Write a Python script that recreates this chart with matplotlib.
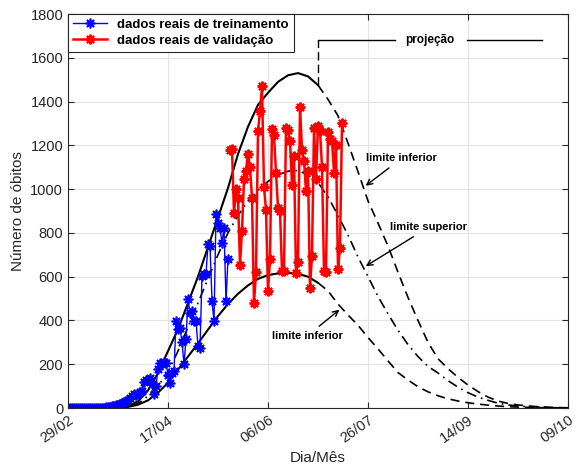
import numpy as np
import matplotlib.pyplot as plt

plt.rcParams['font.family'] = ['Liberation Sans', 'DejaVu Sans']

# ============== TICKS ==============
tick_days   = [0, 50, 100, 150, 200, 250]
tick_labels = ['29/02', '17/04', '06/06', '26/07', '14/09', '09/10']
y_ticks     = [0, 200, 400, 600, 800, 1000, 1200, 1400, 1600, 1800]

# ============== OBSERVED DAILY DEATHS ==============
train_first_day = 0
train_deaths = [0, 0, 0, 0, 0, 0, 0, 0, 0, 0,
                0, 0, 0, 0, 0, 1, 1, 2, 2, 3,
                4, 5, 7, 9, 12, 15, 18, 22, 28, 33,
                38, 45, 55, 62, 58, 62, 75, 78, 120, 130,
                128, 135, 110, 64, 100, 180, 207, 200, 208, 207,
                150, 116, 160, 170, 397, 362, 367, 300, 200, 314,
                498, 435, 443, 397, 397, 283, 275, 603, 612, 612,
                749, 740, 489, 397, 886, 847, 823, 755, 823, 489,
                680]

valid_first_day = 81
valid_deaths = [1180, 1185, 890, 1000, 960, 655, 810,
                1045, 1085, 1160, 1100, 960, 480, 620,
                1265, 1355, 1470, 1010, 905, 535, 680,
                1275, 1245, 1075, 915, 900, 625, 625,
                1280, 1270, 1220, 1020, 1150, 615, 665,
                1375, 1180, 1130, 990, 1085, 550, 695,
                1280, 1045, 1290, 1265, 1100, 625, 620,
                1260, 1230, 1220, 1075, 1200, 635, 730,
                1300]

# ============== MODEL CURVES (every 5 days) ==============
curve_days = list(range(0, 251, 5))
upper = [0, 0, 0, 0, 0, 2, 10, 30, 80, 160,
         260, 360, 480, 600, 735, 870, 1005, 1160, 1285, 1385,
         1440, 1490, 1520, 1530, 1515, 1475, 1410, 1335, 1210, 1080,
         946, 845, 740, 620, 505, 400, 300, 225, 180, 140,
         105, 75, 50, 32, 21, 14, 9, 6, 4, 2, 1]
middle = [0, 0, 0, 0, 0, 1, 6, 20, 55, 100,
          165, 260, 370, 480, 590, 700, 800, 880, 945, 995,
          1035, 1065, 1082, 1085, 1065, 1030, 965, 880, 790, 690,
          600, 510, 430, 355, 290, 235, 190, 160, 125, 95,
          70, 50, 35, 22, 14, 9, 6, 4, 2, 1, 0]
lower = [0, 0, 0, 0, 0, 1, 5, 15, 35, 70,
         115, 175, 235, 295, 358, 420, 475, 522, 560, 590,
         607, 615, 618, 613, 600, 572, 535, 475, 425, 378,
         322, 270, 215, 162, 128, 97, 74, 56, 42, 32,
         24, 18, 13, 9, 6, 4, 3, 2, 1, 0, 0]

proj_day    = 125     # start of the projection
proj_level  = 1681    # height of the "projeção" bracket
proj_text_x = 181

# ============== FIGURE ==============
fig = plt.figure(figsize=(5.85, 4.70), dpi=100)
ax = fig.add_axes([68/585, 1-408/470, 500/585, 394/470])

cd = np.array(curve_days)
up = np.array(upper)
md = np.array(middle)
lo = np.array(lower)
fit = cd <= proj_day
prj = cd >= proj_day

dash = (0, (5.5, 3.5))
ax.plot(cd[fit], up[fit], color='black', lw=1.5)
ax.plot(cd[prj], up[prj], color='black', lw=1.2, linestyle=dash)
ax.plot(cd, md, color='black', lw=1.2, linestyle=(0, (6, 3, 1, 3)))
ax.plot(cd[fit], lo[fit], color='black', lw=1.5)
ax.plot(cd[prj], lo[prj], color='black', lw=1.2, linestyle=dash)

asterisk = (8, 2, 0)
train_x = np.arange(len(train_deaths)) + train_first_day
valid_x = np.arange(len(valid_deaths)) + valid_first_day
ax.plot(train_x, train_deaths, color='#0000ff', lw=1.0, marker=asterisk,
        markersize=7, markeredgewidth=1.2, label='dados reais de treinamento')
ax.plot(valid_x, valid_deaths, color='#ff0000', lw=1.8, marker=asterisk,
        markersize=7, markeredgewidth=1.5, label='dados reais de validação')

# projection bracket
top_at_proj = up[cd == proj_day][0]
ax.plot([proj_day, proj_day], [top_at_proj, proj_level], color='black',
        lw=1.0, linestyle=(0, (6, 3)))
ax.plot([proj_day, 163.5], [proj_level, proj_level], color='black', lw=1.0)
ax.plot([199.5, 237], [proj_level, proj_level], color='black', lw=1.0)
ax.text(proj_text_x, proj_level, 'projeção', ha='center', va='center',
        fontsize=8.5, fontweight='bold')

arrow = dict(arrowstyle='->', color='black', lw=1.0, mutation_scale=10)
ax.annotate('limite inferior', xy=(147.7, np.interp(147.7, cd, up)),
            xytext=(149, 1140), fontsize=8, fontweight='bold',
            ha='left', va='center', arrowprops=arrow)
ax.annotate('limite superior', xy=(147.7, np.interp(147.7, cd, md)),
            xytext=(161, 825), fontsize=8, fontweight='bold',
            ha='left', va='center', arrowprops=arrow)
ax.annotate('limite inferior', xy=(136.8, np.interp(136.8, cd, lo)),
            xytext=(102, 330), fontsize=8, fontweight='bold',
            ha='left', va='center', arrowprops=arrow)

# axes cosmetics
ax.set_xlim(0, 250)
ax.set_ylim(0, 1800)
ax.set_xticks(tick_days)
ax.set_xticklabels(tick_labels, rotation=35, ha='right', rotation_mode='anchor')
ax.set_yticks(y_ticks)
ax.tick_params(direction='in', top=True, right=True, labelsize=10.5,
               colors='#262626', length=4)
for s in ax.spines.values():
    s.set_color('#262626')
    s.set_linewidth(0.8)
ax.grid(True, color='#e3e3e3', lw=0.8)
ax.set_axisbelow(True)
ax.set_xlabel('Dia/Mês', fontsize=11, color='#262626')
ax.set_ylabel('Número de óbitos', fontsize=11, color='#262626')

leg = ax.legend(loc='upper left', bbox_to_anchor=(0, 1), borderaxespad=0,
                fancybox=False, framealpha=1, edgecolor='#262626',
                prop={'weight': 'bold', 'size': 9.5}, handlelength=2.6,
                labelspacing=0.3, borderpad=0.35)
leg.get_frame().set_linewidth(0.8)

fig.savefig('out.png', dpi=100)
